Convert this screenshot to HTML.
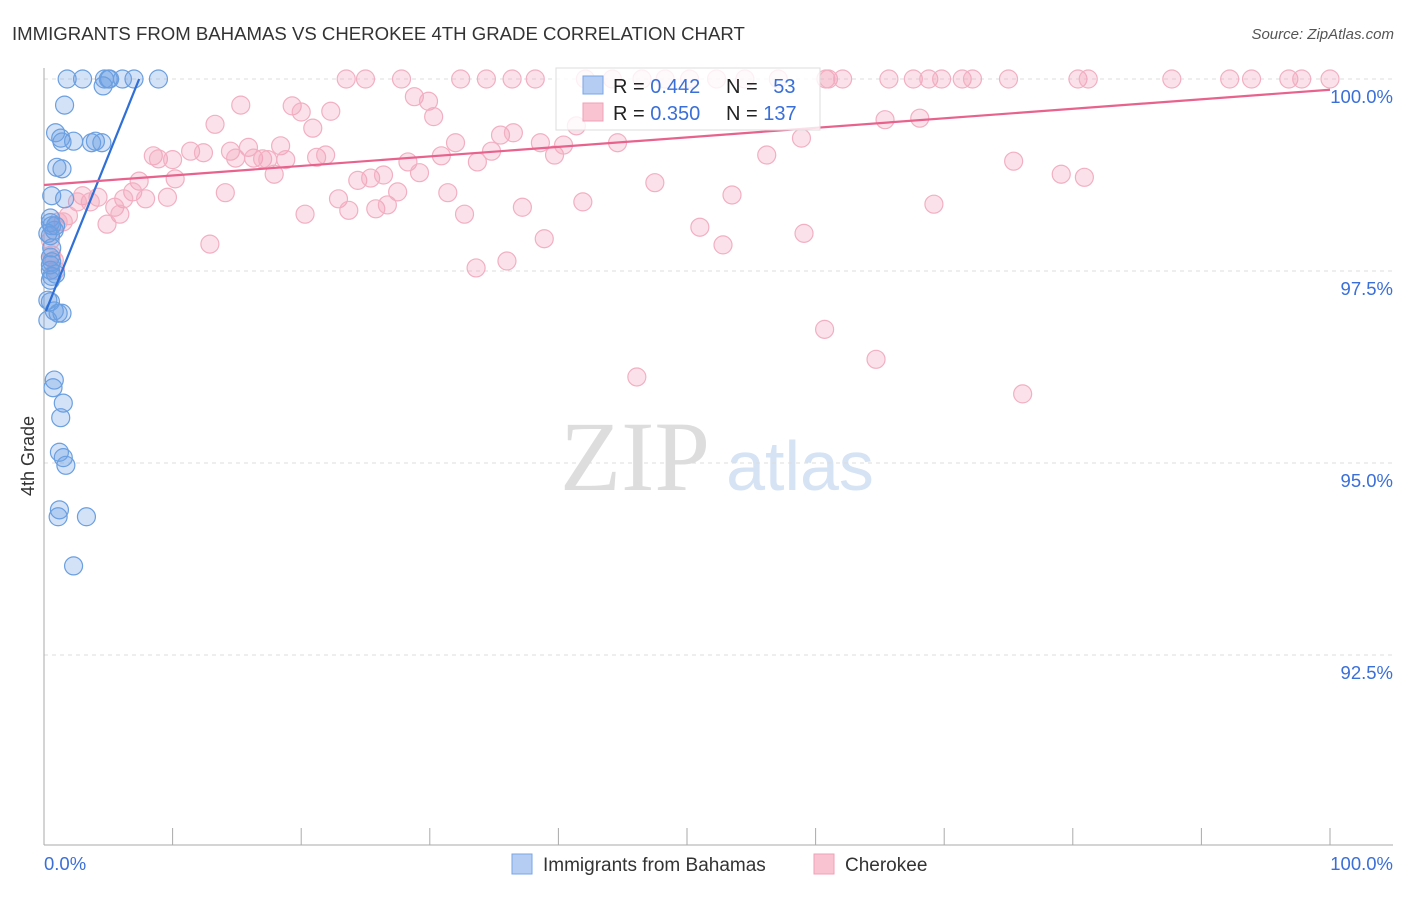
<!DOCTYPE html>
<html><head><meta charset="utf-8"><style>
body{margin:0;background:#fff;font-family:"Liberation Sans",sans-serif;}
svg text{font-family:"Liberation Sans",sans-serif;}
</style></head><body>
<svg width="1406" height="892" viewBox="0 0 1406 892">
<text x="12" y="40" font-size="18.6" fill="#333">IMMIGRANTS FROM BAHAMAS VS CHEROKEE 4TH GRADE CORRELATION CHART</text>
<text x="1394" y="39" font-size="15" fill="#555" text-anchor="end" font-style="italic">Source: ZipAtlas.com</text>
<text x="635" y="490" font-size="100" fill="#ddd" text-anchor="middle" font-family="Liberation Serif" style="font-family:'Liberation Serif',serif">ZIP</text>
<text x="800" y="490" font-size="70" fill="#d5e3f5" text-anchor="middle">atlas</text>
<g id="grid"></g>
<g id="axes"></g>
<g id="pts"></g>
<g id="trend"></g>
<text transform="translate(34,456) rotate(-90)" font-size="18" fill="#333" text-anchor="middle">4th Grade</text>
<text x="44" y="870" font-size="18.5" fill="#3a6fd8">0.0%</text>
<text x="1393" y="870" font-size="18.5" fill="#3a6fd8" text-anchor="end">100.0%</text>
<g>
<rect x="556" y="68" width="264" height="62" fill="#fff" fill-opacity="0.8" stroke="#ddd"/>
<rect x="583" y="76" width="20" height="18" fill="#b5cdf3" stroke="#7aa5e6"/>
<rect x="583" y="103" width="20" height="18" fill="#f9c3d2" stroke="#f0a0b8"/>
<text x="613" y="93" font-size="20" fill="#222">R = <tspan fill="#3a6fd8">0.442</tspan></text>
<text x="726" y="93" font-size="20" fill="#222">N = <tspan fill="#3a6fd8" dx="10">53</tspan></text>
<text x="613" y="120" font-size="20" fill="#222">R = <tspan fill="#3a6fd8">0.350</tspan></text>
<text x="726" y="120" font-size="20" fill="#222">N = <tspan fill="#3a6fd8">137</tspan></text>
</g>
<g>
<rect x="512" y="854" width="20" height="20" fill="#b5cdf3" stroke="#7aa5e6"/>
<text x="543" y="871" font-size="19" fill="#333">Immigrants from Bahamas</text>
<rect x="814" y="854" width="20" height="20" fill="#f9c3d2" stroke="#f0a0b8"/>
<text x="845" y="871" font-size="19" fill="#333">Cherokee</text>
</g>
</svg>
<script>
const yTicks=[100,97.5,95,92.5];
const yTickLabels=["100.0%","97.5%","95.0%","92.5%"];
const xTicks=[0,10,20,30,40,50,60,70,80,90,100];
const blueX=[1.8,3.0,4.7,5.0,5.1,6.1,7.0,8.9,4.6,1.6,0.9,1.3,1.4,2.3,3.7,4.0,4.5,1.0,1.4,0.6,1.6,0.5,0.6,0.8,0.9,0.5,0.6,0.5,0.6,0.5,0.6,0.5,0.5,0.8,1.1,0.3,0.8,0.7,1.5,1.3,1.2,1.5,1.7,1.2,1.1,3.3,2.3,0.5,0.3,0.5,0.9,0.3,1.4];
const blueY=[100,100,100,100,100,100,100,100,99.91,99.66,99.30,99.23,99.18,99.19,99.17,99.19,99.17,98.85,98.83,98.48,98.44,98.19,98.09,98.03,98.09,97.96,97.80,97.68,97.62,97.51,97.43,97.38,97.10,96.98,96.95,96.86,96.08,95.98,95.78,95.59,95.14,95.07,94.97,94.39,94.30,94.30,93.66,98.13,97.99,97.58,97.46,97.12,96.95];
const pinkX=[23.5,25.0,27.8,32.4,34.4,36.4,38.2,42.1,44.2,46.5,48.3,50.2,52.3,54.5,57.1,60.8,61.0,62.1,65.7,67.6,68.8,69.8,71.4,72.2,75.0,80.4,81.2,87.7,92.2,93.9,96.8,97.8,100,
15.3,13.3,19.3,20.0,22.3,20.9,28.8,29.9,30.3,35.5,36.5,41.4,44.6,58.9,68.1,65.4,8.5,8.9,10.0,11.4,12.4,14.5,15.9,14.9,16.3,17.0,17.4,18.4,18.8,21.2,21.9,28.3,30.9,32.0,33.7,34.8,38.6,39.7,40.4,56.2,75.4,7.4,6.9,6.2,5.5,5.9,4.9,4.2,3.0,3.6,2.6,1.9,1.5,1.1,0.8,0.9,10.2,9.6,7.9,14.1,17.9,20.3,22.9,23.7,24.4,25.4,26.4,25.8,26.7,27.5,29.2,31.4,32.7,37.2,41.9,47.5,53.5,79.1,80.9,69.2,12.9,33.6,36.0,38.9,51.0,52.8,59.1,60.7,64.7,46.1,76.1,0.5,0.6];
const pinkY=[100,100,100,100,100,100,100,100,100,100,100,100,100,100,100,100,100,100,100,100,100,100,100,100,100,100,100,100,100,100,100,100,100,
99.66,99.41,99.65,99.57,99.58,99.36,99.77,99.71,99.51,99.27,99.30,99.39,99.17,99.23,99.49,99.47,99.00,98.96,98.95,99.06,99.04,99.06,99.11,98.97,98.97,98.96,98.95,99.13,98.95,98.98,99.01,98.92,99.00,99.17,98.92,99.06,99.17,99.01,99.14,99.01,98.93,98.67,98.53,98.44,98.33,98.24,98.11,98.46,98.48,98.40,98.40,98.22,98.14,98.14,97.64,97.51,98.70,98.46,98.44,98.52,98.76,98.24,98.44,98.29,98.68,98.71,98.75,98.31,98.36,98.53,98.78,98.52,98.24,98.33,98.40,98.65,98.49,98.76,98.72,98.37,97.85,97.54,97.63,97.92,98.07,97.84,97.99,96.74,96.35,96.12,95.90,97.90,97.71];
const blueTrendX=[0.15,7.4], blueTrendY=[96.98,100];
const pinkTrendX=[0,100], pinkTrendY=[98.62,99.86];
const NS="http://www.w3.org/2000/svg";
const X=v=>44+v*12.86, Y=v=>79+(100-v)*76.8;
function mk(tag,attrs,parent){const e=document.createElementNS(NS,tag);for(const k in attrs)e.setAttribute(k,attrs[k]);document.getElementById(parent).appendChild(e);return e;}
yTicks.forEach((t,i)=>{
 const l=mk('line',{x1:44,x2:1393,y1:Y(t),y2:Y(t),stroke:'#ddd','stroke-dasharray':'4,4'},'grid');
 
 
 const tx=mk('text',{x:1393,y:Y(t)+24,'font-size':18.5,fill:'#3a6fd8','text-anchor':'end'},'grid');
 tx.textContent=yTickLabels[i];
 
 
});
const ax=mk('line',{x1:44,x2:1393,y1:845,y2:845,stroke:'#aaa'},'axes');


const ay=mk('line',{x1:44,x2:44,y1:68,y2:845,stroke:'#aaa'},'axes');


xTicks.forEach(t=>{
 const l=mk('line',{x1:X(t),x2:X(t),y1:828,y2:845,stroke:'#aaa'},'axes');
 
 
});
pinkX.forEach((v,i)=>{
 const c=mk('circle',{cx:X(v),cy:Y(pinkY[i]),r:9,fill:'rgba(243,160,185,0.3)',stroke:'#f2afc2','stroke-width':1.2},'pts');
 
 
});
blueX.forEach((v,i)=>{
 const c=mk('circle',{cx:X(v),cy:Y(blueY[i]),r:9,fill:'rgba(110,160,230,0.3)',stroke:'#6a9fe0','stroke-width':1.2},'pts');
 
 
});
const bt=mk('line',{x1:X(blueTrendX[0]),y1:Y(blueTrendY[0]),x2:X(blueTrendX[1]),y2:Y(blueTrendY[1]),stroke:'#2f6fd6','stroke-width':2.2},'trend');


const pt=mk('line',{x1:X(pinkTrendX[0]),y1:Y(pinkTrendY[0]),x2:X(pinkTrendX[1]),y2:Y(pinkTrendY[1]),stroke:'#e8628e','stroke-width':2.2},'trend');


</script>
</body></html>
